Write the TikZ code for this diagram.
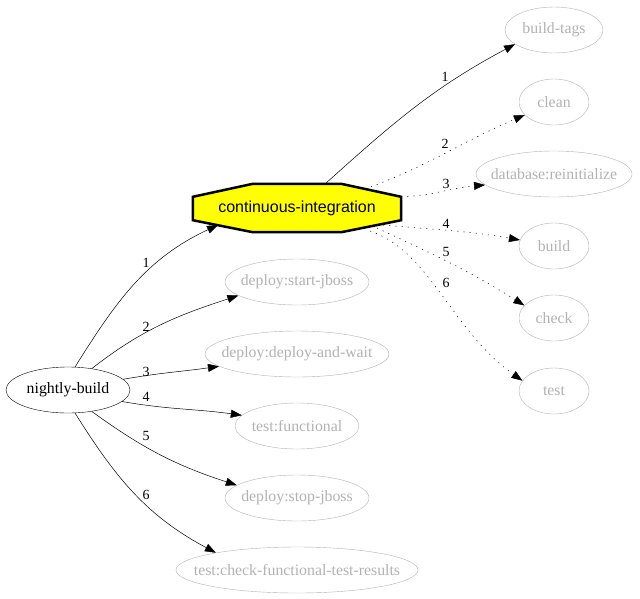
\documentclass[tikz,border=0pt]{standalone}
\usepackage{fontspec}
\setmainfont{Liberation Serif}
\newfontfamily\cifont{Liberation Sans}
\usetikzlibrary{arrows.meta, shapes.geometric}
\definecolor{taskgrey}{RGB}{178, 178, 178}
\definecolor{ciyellow}{RGB}{255, 255, 0}

\begin{document}
\begin{tikzpicture}[x=1pt, y=1pt,
    fixed/.style={execute at begin node={\hbox to 0pt\bgroup\hss}, execute at end node={\hss\egroup}},
    task/.style={ellipse, fixed, draw=taskgrey, text=taskgrey, inner sep=0pt, minimum height=46pt, font=\fontsize{15.8}{17}\selectfont},
    main/.style={ellipse, fixed, draw, inner sep=0pt, minimum height=46pt, minimum width=124pt, font=\fontsize{15.8}{17}\selectfont},
    dep/.style={-{Triangle[length=11pt, width=8pt]}, line width=0.5pt},
    opt/.style={dep, dash pattern=on 1.2pt off 5pt},
    num/.style={font=\fontsize{14}{16}\selectfont, inner sep=0pt}]
    \useasboundingbox (0,0) rectangle (640,-598);

    % start target
    \node[main] (nb) at (68,-390) {nightly-build};

    % continuous-integration, an octagon drawn on its box
    \node[minimum width=208pt, minimum height=48pt, inner sep=0pt] (ci) at (297,-208) {};
    \draw[fill=ciyellow, line width=2.5pt, line join=miter]
        ([xshift=60pt]ci.north west) -- ([xshift=-60pt]ci.north east)
        -- ([yshift=-13pt]ci.north east) -- ([yshift=12pt]ci.south east)
        -- ([xshift=-60pt]ci.south east) -- ([xshift=60pt]ci.south west)
        -- ([yshift=12pt]ci.south west) -- ([yshift=-13pt]ci.north west) -- cycle;
    \node[font=\cifont\fontsize{16}{18}\selectfont] at (ci) {continuous-integration};

    % tasks of continuous-integration
    \node[task, minimum width=98pt] (bt) at (554,-30) {build-tags};
    \node[task, minimum width=70pt] (cl) at (554,-102) {clean};
    \node[task, minimum width=156pt] (db) at (554,-174) {database:reinitialize};
    \node[task, minimum width=70pt] (bu) at (554,-246) {build};
    \node[task, minimum width=70pt] (ch) at (554,-318) {check};
    \node[task, minimum width=70pt] (te) at (554,-391) {test};

    % tasks of nightly-build
    \node[task, minimum width=144pt] (sj) at (297,-282) {deploy:start-jboss};
    \node[task, minimum width=184pt] (dw) at (297,-354) {deploy:deploy-and-wait};
    \node[task, minimum width=124pt] (tf) at (297,-426) {test:functional};
    \node[task, minimum width=144pt] (ss) at (297,-498) {deploy:stop-jboss};
    \node[task, minimum width=242pt] (cf) at (297,-570) {test:check-functional-test-results};

    \draw[dep] (nb.73) to[out=58, in=-155] ([shift={(-79,-17)}]ci.center) node[num] at (146,-263) {1};
    \draw[dep] (nb.42) to[out=38, in=-162] (sj.-167) node[num] at (146,-327) {2};
    \draw[dep] (nb.11) to[out=10, in=-172] (dw.-171) node[num] at (146,-372) {3};
    \draw[dep] (nb.-12) to[out=-10, in=172] (tf.169) node[num] at (146,-397) {4};
    \draw[dep] (nb.-42) to[out=-36, in=162] (ss.168) node[num] at (146,-436) {5};
    \draw[dep] (nb.-73) to[out=-58, in=152] (cf.168) node[num] at (146,-495) {6};

    \draw[dep] ([shift={(28,24)}]ci.center) to[out=42, in=-152] (bt.-160) node[num] at (445,-77) {1};
    \draw[opt] ([shift={(68,19)}]ci.center) to[out=20, in=-157] (cl.-156) node[num] at (445,-144) {2};
    \draw[opt] ([shift={(104,11)}]ci.center) to[out=3, in=-175] (db.-171) node[num] at (446,-184) {3};
    \draw[opt] ([shift={(86,-17)}]ci.center) to[out=-5, in=170] (bu.170) node[num] at (446,-224) {4};
    \draw[opt] ([shift={(80,-20)}]ci.center) to[out=-25, in=148] (ch.157) node[num] at (446,-252) {5};
    \draw[opt] ([shift={(73,-23)}]ci.center) .. controls +(60,-20) and +(-71,50) .. (te.162) node[num] at (446,-283) {6};
\end{tikzpicture}
\end{document}
